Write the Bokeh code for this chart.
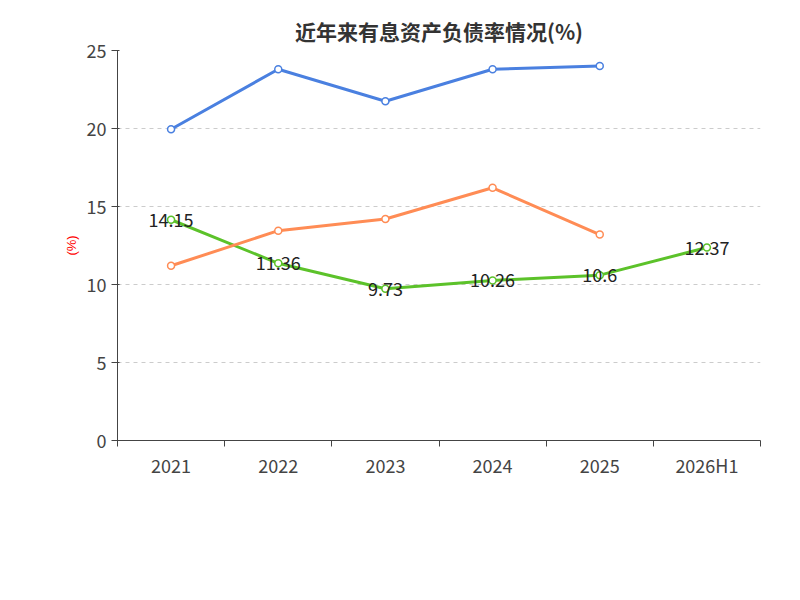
from bokeh.plotting import figure
from bokeh.models import FixedTicker, Legend, LegendItem, Label, ColumnDataSource, Range1d
from bokeh.embed import file_html
from bokeh.resources import INLINE
from bokeh.core.properties import value

categories = ["2021", "2022", "2023", "2024", "2025", "2026H1"]
ratio = [14.15, 11.36, 9.73, 10.26, 10.6, 12.37]
ind_avg = [19.95, 23.8, 21.75, 23.8, 24.0]
ind_med = [11.2, 13.45, 14.2, 16.2, 13.2]

F = "Noto Sans CJK SC"
p = figure(width=784, height=584, output_backend="svg", toolbar_location=None,
           x_range=Range1d(-0.5, 5.5), y_range=Range1d(0, 25))
p.title.text = "近年来有息资产负债率情况(%)"
p.title.align = "center"
p.title.text_font = F
p.title.text_font_size = "21px"
p.title.text_color = "#333333"
p.min_border_left = 117
p.min_border_right = 24
p.min_border_top = 50
p.min_border_bottom = 144
p.outline_line_color = None
p.xgrid.visible = False
p.ygrid.grid_line_dash = "4 4"
p.ygrid.grid_line_color = "#cccccc"

p.xaxis.ticker = FixedTicker(ticks=list(range(6)), minor_ticks=[i - 0.5 for i in range(7)])
p.xaxis.major_label_overrides = {i: c for i, c in enumerate(categories)}
p.xaxis.major_tick_out = 0
p.xaxis.major_tick_in = 0
p.xaxis.minor_tick_out = 6
p.xaxis.minor_tick_in = 0
p.yaxis.ticker = FixedTicker(ticks=[0, 5, 10, 15, 20, 25])
p.yaxis.minor_tick_line_color = None
for ax in (p.xaxis, p.yaxis):
    ax.major_label_text_font = F
    ax.major_label_text_font_size = "18px"
    ax.major_label_text_color = "#444444"
    ax.axis_line_color = "#444444"
    ax.major_tick_line_color = "#444444"
    ax.minor_tick_line_color = "#444444"
p.yaxis.axis_label = "(%)"
p.yaxis.axis_label_text_color = "red"
p.yaxis.axis_label_text_font_style = "normal"
p.yaxis.axis_label_text_font_size = "13px"

xs6 = list(range(6)); xs5 = list(range(5))
lg = p.line(xs6, ratio, color="#5cc22a", line_width=3)
cg = p.scatter(xs6, ratio, size=7, fill_color="white", line_color="#5cc22a", line_width=1.5)
lb = p.line(xs5, ind_avg, color="#4a80e0", line_width=3)
cb = p.scatter(xs5, ind_avg, size=7, fill_color="white", line_color="#4a80e0", line_width=1.5)
lo = p.line(xs5, ind_med, color="#ff8c55", line_width=3)
co = p.scatter(xs5, ind_med, size=7, fill_color="white", line_color="#ff8c55", line_width=1.5)

src = ColumnDataSource(dict(x=xs6, y=ratio, t=[str(v) for v in ratio]))
p.text("x", "y", text="t", source=src, text_align="center", text_baseline="middle",
       text_font=value(F), text_font_size="18px", text_color="#222222")

legend = Legend(items=[LegendItem(label="有息资产负债率", renderers=[lg, cg]),
                       LegendItem(label="行业均值", renderers=[lb, cb]),
                       LegendItem(label="行业中位数", renderers=[lo, co])],
                orientation="horizontal", location=(-40, -118), label_text_font=F,
                label_text_font_size="18px", label_text_color="#333333",
                border_line_color=None, background_fill_alpha=0,
                glyph_width=40, spacing=30)
p.add_layout(legend)
foot = Label(x=321, y=-158, x_units="screen", y_units="screen", text="制图数据来自恒生聚源数据库",
             text_align="center", text_font=F, text_font_size="14px", text_color="#c8901e")
p.add_layout(foot)

open("out.html", "w").write(file_html(p, INLINE))
